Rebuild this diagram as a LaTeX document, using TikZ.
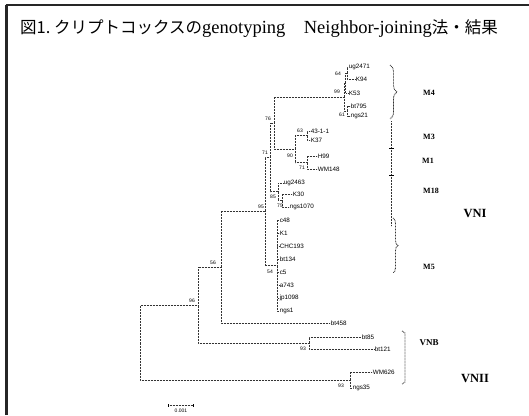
\documentclass[tikz,border=0pt]{standalone}
\usepackage{fontspec}
\setmainfont{Liberation Serif}
\newfontfamily\cjk{Noto Sans CJK JP}
\newfontfamily\lsans{Liberation Sans}
\usetikzlibrary{decorations.pathreplacing}
\begin{document}
\begin{tikzpicture}[x=1pt,y=-1pt,
 br/.style={line width=0.85pt, dash pattern=on 0.8pt off 0.7pt, black!80},
 leaf/.style={anchor=west, inner sep=0.6pt, font=\lsans\fontsize{6.3}{6.3}\selectfont},
 bs/.style={inner sep=0, font=\lsans\fontsize{5}{5}\selectfont},
 clade/.style={inner sep=0, font=\bfseries\fontsize{8}{8}\selectfont},
 big/.style={inner sep=0, font=\bfseries\fontsize{12.5}{12.5}\selectfont},
 brk/.style={br, decorate, decoration={brace, amplitude=#1}}
]
\useasboundingbox (0,0) rectangle (529,415);
% frame
\draw[line width=2.2pt, black!85] (6.5,415) -- (6.5,5);
\draw[line width=1.6pt, black!85] (5.5,5) -- (529,5);
% title
\node[anchor=base west, inner sep=0] (title) at (20,33.5) {\cjk\fontsize{16.5}{16.5}\selectfont 図1.\ クリプトコックスの{\rmfamily\fontsize{18.5}{18.5}\selectfont genotyping\quad Neighbor-joining}法・結果};
% internal nodes
\coordinate (root) at (140,342.5);
\coordinate (n96) at (198,305.5);
\coordinate (n56) at (221,267);
\coordinate (n95) at (265,211);
\coordinate (n71) at (270,157);
\coordinate (n76) at (274,123);
\coordinate (m4) at (344,97);
\coordinate (n99) at (345.5,83);
\coordinate (n64) at (347,73);
\coordinate (n61) at (347.5,111);
\coordinate (n90) at (295,149);
\coordinate (n63) at (307,135.5);
\coordinate (n71b) at (307,162.5);
\coordinate (n85) at (278,191.75);
\coordinate (n75) at (282,200.5);
\coordinate (m5) at (277,265.5);
\coordinate (vnb) at (309,343);
\coordinate (vn2) at (350,380);
% leaves
\node[leaf] (ug2471) at (348,67) {ug2471};
\node[leaf] (k94) at (355,79) {K94};
\node[leaf] (k53) at (348,93) {K53};
\node[leaf] (bt795) at (350,106) {bt795};
\node[leaf] (ngs21) at (350,116) {ngs21};
\node[leaf] (a311) at (310,131) {43-1-1};
\node[leaf] (k37) at (310,140) {K37};
\node[leaf] (h99) at (317,156) {H99};
\node[leaf] (wm148) at (317,169) {WM148};
\node[leaf] (ug2463) at (283,183) {ug2463};
\node[leaf] (k30) at (292,194) {K30};
\node[leaf] (ngs1070) at (289,207) {ngs1070};
\node[leaf] (c48) at (279,220) {c48};
\node[leaf] (k1) at (279,233) {K1};
\node[leaf] (chc) at (279,246) {CHC193};
\node[leaf] (bt134) at (279,259) {bt134};
\node[leaf] (c5) at (279,272) {c5};
\node[leaf] (a743) at (279,285) {a743};
\node[leaf] (jp1098) at (279,298) {jp1098};
\node[leaf] (ngs1) at (279,311) {ngs1};
\node[leaf] (bt458) at (330,323) {bt458};
\node[leaf] (bt85) at (361,337) {bt85};
\node[leaf] (bt121) at (374,349) {bt121};
\node[leaf] (wm626) at (372,372) {WM626};
\node[leaf] (ngs35) at (352,388) {ngs35};
% branches
\draw[br] (root) |- (n96);
\draw[br] (root) |- (vn2);
\draw[br] (n96) |- (n56);
\draw[br] (n96) |- (vnb);
\draw[br] (n56) |- (n95);
\draw[br] (n56) |- (bt458.west);
\draw[br] (n95) |- (n71);
\draw[br] (n95) |- (m5);
\draw[br] (n71) |- (n76);
\draw[br] (n71) |- (n85);
\draw[br] (n76) |- (m4);
\draw[br] (n76) |- (n90);
\draw[br] (m4) |- (n99);
\draw[br] (m4) |- (n61);
\draw[br] (n99) |- (n64);
\draw[br] (n99) |- (k53.west);
\draw[br] (n64) |- (ug2471.west);
\draw[br] (n64) |- (k94.west);
\draw[br] (n61) |- (bt795.west);
\draw[br] (n61) |- (ngs21.west);
\draw[br] (n90) |- (n63);
\draw[br] (n90) |- (n71b);
\draw[br] (n63) |- (a311.west);
\draw[br] (n63) |- (k37.west);
\draw[br] (n71b) |- (h99.west);
\draw[br] (n71b) |- (wm148.west);
\draw[br] (n85) |- (ug2463.west);
\draw[br] (n85) |- (n75);
\draw[br] (n75) |- (k30.west);
\draw[br] (n75) |- (ngs1070.west);
\foreach \l in {c48,k1,chc,bt134,c5,a743,jp1098,ngs1} \draw[br] (m5) -| ([xshift=-2pt]\l.west) -- (\l.west);
\draw[br] (vnb) |- (bt85.west);
\draw[br] (vnb) |- (bt121.west);
\draw[br] (vn2) |- (wm626.west);
\draw[br] (vn2) |- (ngs35.west);
% bootstrap values
\node[bs] (b64) at (338,74) {64};
\node[bs] (b99) at (337,92) {99};
\node[bs] (b61) at (342,115) {61};
\node[bs] (b76) at (268,119) {76};
\node[bs] (b63) at (300,131) {63};
\node[bs] (b90) at (290,156) {90};
\node[bs] (b71) at (265,153) {71};
\node[bs] (b71b) at (302,168) {71};
\node[bs] (b85) at (273,197) {85};
\node[bs] (b75) at (280,206) {75};
\node[bs] (b95) at (261,207) {95};
\node[bs] (b54) at (270,272) {54};
\node[bs] (b56) at (213,263) {56};
\node[bs] (b96) at (192,301) {96};
\node[bs] (b93a) at (303,349) {93};
\node[bs] (b93b) at (341,386) {93};
% scale bar
\coordinate (sb1) at (168,405);
\coordinate (sb2) at (193,405);
\draw[br] (sb1) -- (sb2);
\draw[line width=0.6pt] ([yshift=-1.5pt]sb1) -- ([yshift=1.5pt]sb1);
\draw[line width=0.6pt] ([yshift=-1.5pt]sb2) -- ([yshift=1.5pt]sb2);
\node[bs] (sblab) at (181,411) {0.001};
% clade brackets
\draw[brk=7pt] (390,65) -- (390,119);
\draw[br] (391,121) -- (391,226);
\draw[line width=0.7pt] (389,148) -- (394,148);
\draw[line width=0.7pt] (389,175) -- (394,175);
\draw[brk=5pt] (393,218) -- (393,273);
\draw[br] (402,331) -- (405,333) -- (405,382) -- (402,384);
% clade labels
\node[clade] (lm4) at (429,93) {M4};
\node[clade] (lm3) at (429,137) {M3};
\node[clade] (lm1) at (428,161) {M1};
\node[clade] (lm18) at (431,191) {M18};
\node[clade] (lm5) at (429,267) {M5};
\node[big] (lvni) at (475,213) {VNI};
\node[clade, font=\bfseries\fontsize{9}{9}\selectfont] (lvnb) at (429,343) {VNB};
\node[big] (lvnii) at (475,378) {VNII};
\end{tikzpicture}
\end{document}
